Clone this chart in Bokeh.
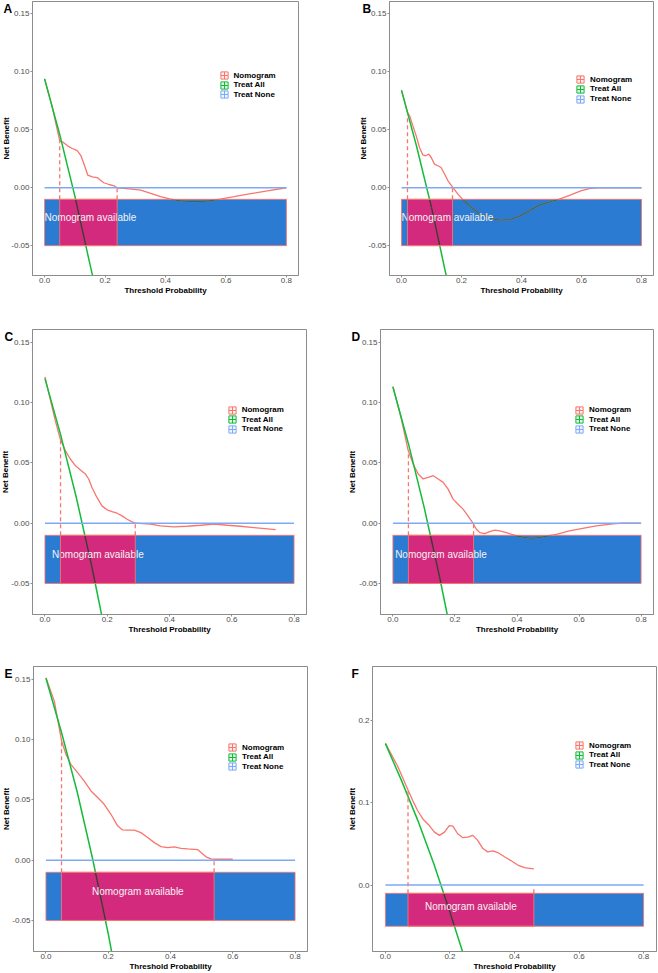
import math
from bokeh.plotting import figure
from bokeh.layouts import row, column
from bokeh.models import (Range1d, FixedTicker, NumeralTickFormatter, Legend, LegendItem,
                          CustomJSTickFormatter)
from bokeh.embed import file_html
from bokeh.resources import INLINE
from bokeh.core.properties import value

# ---------------- data ----------------
SERIES = ["Nomogram", "Treat All", "Treat None"]
X_TICKS = [0.0, 0.2, 0.4, 0.6, 0.8]
Y_TICKS_SMALL = [-0.05, 0.0, 0.05, 0.10, 0.15]
Y_LABELS_SMALL = ["-0.05", "0.00", "0.05", "0.10", "0.15"]
Y_TICKS_F = [0.0, 0.1, 0.2]
Y_LABELS_F = ["0.0", "0.1", "0.2"]
NONE_X = [0.0, 0.8]
NONE_Y = [0.0, 0.0]
BAND_X = [0.0, 0.8]          # "Nomogram available" background bar
BAND_Y = [-0.05, -0.01]

A_thr = [0.0, 0.025, 0.05, 0.06, 0.075, 0.09, 0.108, 0.12, 0.13, 0.143, 0.158, 0.174, 0.185, 0.196,
         0.213, 0.23, 0.24, 0.28, 0.318, 0.351, 0.384, 0.417, 0.45, 0.494, 0.538, 0.572, 0.627,
         0.682, 0.737, 0.8]
A_nb = [0.094, 0.070, 0.0406, 0.0395, 0.0364, 0.0341, 0.0321, 0.0278, 0.0207, 0.0108, 0.0094,
        0.0088, 0.0065, 0.0043, 0.0028, 0.0017, 0.0, -0.001, -0.002, -0.0048, -0.0077, -0.0099,
        -0.0114, -0.0119, -0.0116, -0.0102, -0.0077, -0.0051, -0.0028, 0.0]
A_all_x = [0.0, 0.05, 0.10, 0.15, 0.165]
A_all_y = [0.094, 0.046, -0.007, -0.066, -0.083]
A_avail = [0.05, 0.24]
A_dash_top = [0.041, 0.0]

B_thr = [0.0, 0.01, 0.02, 0.027, 0.038, 0.049, 0.06, 0.071, 0.08, 0.091, 0.099, 0.11, 0.121, 0.132,
         0.1435, 0.155, 0.171, 0.188, 0.205, 0.227, 0.26, 0.294, 0.327, 0.36, 0.394, 0.427, 0.461,
         0.494, 0.524, 0.56, 0.60, 0.63, 0.66, 0.8]
B_nb = [0.084, 0.075, 0.065, 0.0621, 0.0534, 0.0448, 0.0348, 0.0284, 0.0276, 0.029, 0.0261, 0.0204,
        0.019, 0.0175, 0.0118, 0.006, 0.0003, -0.0055, -0.0103, -0.0155, -0.0225, -0.0265, -0.028,
        -0.0275, -0.0245, -0.0198, -0.0148, -0.0122, -0.0100, -0.0065, -0.0025, -0.0005, 0.0, 0.0]
B_all_x = [0.0, 0.05, 0.10, 0.15, 0.16]
B_all_y = [0.084, 0.036, -0.017, -0.077, -0.090]
B_avail = [0.02, 0.17]
B_dash_top = [0.062, 0.0]

C_thr = [0.0, 0.033, 0.049, 0.0654, 0.0815, 0.0976, 0.1137, 0.13, 0.1405, 0.151, 0.167, 0.183,
         0.1995, 0.2155, 0.2316, 0.2477, 0.264, 0.28, 0.29, 0.339, 0.371, 0.414, 0.457, 0.50,
         0.543, 0.586, 0.628, 0.671, 0.741]
C_nb = [0.1214, 0.0853, 0.070, 0.0603, 0.0533, 0.0478, 0.0442, 0.0408, 0.0367, 0.0297, 0.0214,
        0.0144, 0.0111, 0.0097, 0.0083, 0.0061, 0.0033, 0.0011, 0.0, -0.0008, -0.0022, -0.003,
        -0.0025, -0.0017, -0.0008, -0.0017, -0.0025, -0.0036, -0.0053]
C_all_x = [0.0, 0.05, 0.10, 0.15, 0.185]
C_all_y = [0.12, 0.0737, 0.0222, -0.0353, -0.0798]
C_avail = [0.05, 0.29]
C_dash_top = [0.07, 0.0]

D_thr = [0.0, 0.025, 0.0493, 0.0654, 0.0815, 0.0976, 0.1137, 0.13, 0.146, 0.162, 0.178, 0.194,
         0.21, 0.226, 0.242, 0.258, 0.269, 0.28, 0.296, 0.312, 0.328, 0.344, 0.366, 0.398, 0.43,
         0.451, 0.484, 0.5265, 0.569, 0.612, 0.655, 0.709, 0.741, 0.8]
D_nb = [0.1136, 0.089, 0.0603, 0.0492, 0.0408, 0.0367, 0.038, 0.0394, 0.0367, 0.0339, 0.0283,
        0.02, 0.0158, 0.0117, 0.0061, 0.0, -0.005, -0.0078, -0.0086, -0.0069, -0.0058, -0.0064,
        -0.0078, -0.0106, -0.0119, -0.0125, -0.0114, -0.0092, -0.0064, -0.0042, -0.0022,
        -0.0006, 0.0, 0.0]
D_all_x = [0.0, 0.05, 0.10, 0.15, 0.18]
D_all_y = [0.113, 0.066, 0.014, -0.044, -0.082]
D_avail = [0.05, 0.26]
D_dash_top = [0.06, 0.0]

E_thr = [0.0, 0.0268, 0.0503, 0.0643, 0.08, 0.1017, 0.123, 0.1446, 0.166, 0.187, 0.2088, 0.23,
         0.246, 0.262, 0.284, 0.305, 0.3266, 0.348, 0.3695, 0.391, 0.412, 0.434, 0.455, 0.487,
         0.498, 0.514, 0.53, 0.546, 0.6]
E_nb = [0.1514, 0.132, 0.0989, 0.0878, 0.0796, 0.0727, 0.0657, 0.0575, 0.052, 0.0464, 0.0381,
        0.0285, 0.0251, 0.0249, 0.0249, 0.0229, 0.0188, 0.0146, 0.0113, 0.0105, 0.011, 0.0099,
        0.0094, 0.0088, 0.0064, 0.0028, 0.0011, 0.0008, 0.0008]
E_all_x = [0.0, 0.05, 0.10, 0.15, 0.20, 0.215]
E_all_y = [0.151, 0.106, 0.057, 0.001, -0.061, -0.0815]
E_avail = [0.05, 0.54]
E_dash_top = [0.099, 0.001]

F_thr = [0.0, 0.038, 0.069, 0.085, 0.100, 0.116, 0.136, 0.152, 0.1674, 0.183, 0.198, 0.209, 0.224,
         0.240, 0.255, 0.271, 0.286, 0.302, 0.317, 0.333, 0.348, 0.369, 0.3897, 0.410, 0.431,
         0.4465, 0.46]
F_nb = [0.1724, 0.1444, 0.1164, 0.1024, 0.0904, 0.0804, 0.0724, 0.0644, 0.0604, 0.0644, 0.0724,
        0.0716, 0.0624, 0.0576, 0.0584, 0.0604, 0.0544, 0.0444, 0.0404, 0.0416, 0.0396, 0.0344,
        0.0296, 0.0244, 0.0212, 0.0204, 0.0196]
F_all_x = [0.0, 0.05, 0.10, 0.15, 0.20, 0.24]
F_all_y = [0.172, 0.127, 0.079, 0.026, -0.033, -0.082]
F_avail = [0.07, 0.46]
F_dash_top = [0.117, -0.003]

# ---------------- style ----------------
FONT = "Liberation Sans"
RED = "#F8766D"
GREEN = "#12BC3A"
BLUE_LINE = "#7EA9F6"
BAR_BLUE = "#2B7BD3"
BAR_MAG = "#D42A7E"
DARK_ON_BLUE = {"red": "#2E6E60", "green": "#1F6A58"}
DARK_ON_MAG = {"red": "#8A2F58", "green": "#6A2145"}
FRAME = "#8C8C8C"
TICK_TXT = "#4D4D4D"
AVAIL_TXT = "Nomogram available"
AVAIL_PX = 10
AVAIL_EM = 9.17   # approximate width of AVAIL_TXT in em


def clip_seg(x0, y0, x1, y1, xmin, xmax, ymin, ymax):
    dx, dy = x1 - x0, y1 - y0
    t0, t1 = 0.0, 1.0
    for p, q in ((-dx, x0 - xmin), (dx, xmax - x0), (-dy, y0 - ymin), (dy, ymax - y0)):
        if p == 0:
            if q < 0:
                return None
        else:
            r = q / p
            if p < 0:
                t0 = max(t0, r)
            else:
                t1 = min(t1, r)
    if t0 >= t1:
        return None
    return [x0 + t0 * dx, x0 + t1 * dx], [y0 + t0 * dy, y0 + t1 * dy]


def clip_line(xs, ys, xmin, xmax, ymin, ymax):
    out_x, out_y = [], []
    for i in range(len(xs) - 1):
        r = clip_seg(xs[i], ys[i], xs[i + 1], ys[i + 1], xmin, xmax, ymin, ymax)
        if r:
            out_x.append(r[0])
            out_y.append(r[1])
    return out_x, out_y


def side(letter, w, h, bt, bb, ylim, yticks, ylabels, letter_x, title_x):
    """Strip left of a panel, sharing its vertical scale: letter, y title, y tick labels."""
    s = figure(width=w, height=h, output_backend="svg", toolbar_location=None,
               x_range=Range1d(0, w), y_range=Range1d(*ylim),
               x_axis_location=None, y_axis_location=None,
               min_border_left=0, min_border_right=0, min_border_top=bt, min_border_bottom=bb)
    s.grid.visible = False
    s.outline_line_color = None
    s.background_fill_color = "white"
    s.border_fill_color = "white"
    s.text(x=[letter_x], y=[ylim[1]], text=[letter], text_font=value(FONT),
           text_font_size="12px", text_font_style="bold", text_color="black",
           text_align="left", text_baseline="top")
    s.text(x=[title_x], y=[(ylim[0] + ylim[1]) / 2], text=["Net Benefit"], angle=math.pi / 2,
           text_font=value(FONT), text_font_size="8px", text_font_style="bold",
           text_color="black", text_align="center", text_baseline="middle")
    s.text(x=[w - 1] * len(yticks), y=yticks, text=ylabels, text_font=value(FONT),
           text_font_size="8px", text_color=TICK_TXT, text_align="right",
           text_baseline="middle")
    return s


def panel(thr, nb, all_x, all_y, avail, dash_top, yticks, ylim,
          w, h, borders, legend_pos):
    bl, br, bt, bb = borders
    x_lo, x_hi = -0.04, 0.84
    p = figure(width=w, height=h, output_backend="svg", toolbar_location=None,
               x_range=Range1d(x_lo, x_hi), y_range=Range1d(*ylim),
               min_border_left=bl, min_border_right=br, min_border_top=bt,
               min_border_bottom=bb)
    p.xgrid.visible = False
    p.ygrid.visible = False
    p.outline_line_color = FRAME
    p.outline_line_width = 1
    p.background_fill_color = "white"
    p.border_fill_color = "white"

    p.xaxis.ticker = FixedTicker(ticks=X_TICKS)
    p.xaxis.formatter = NumeralTickFormatter(format="0.0")
    p.yaxis.ticker = FixedTicker(ticks=yticks)
    p.yaxis.formatter = CustomJSTickFormatter(code="return '';")   # labels drawn in strip
    p.xaxis.axis_label = "Threshold Probability"
    for ax in (p.xaxis, p.yaxis):
        ax.axis_label_text_font = FONT
        ax.axis_label_text_font_style = "bold"
        ax.axis_label_text_font_size = "8px"
        ax.axis_label_text_color = "black"
        ax.axis_label_standoff = 0
        ax.major_label_text_font = FONT
        ax.major_label_text_font_size = "8px"
        ax.major_label_text_color = TICK_TXT
        ax.major_label_standoff = 0
        ax.major_tick_out = 2
        ax.major_tick_in = 0
        ax.minor_tick_out = 0
        ax.minor_tick_in = 0
        ax.axis_line_color = FRAME
        ax.major_tick_line_color = FRAME

    # background bar and "available" range
    p.quad(left=[BAND_X[0]], right=[BAND_X[1]], bottom=[BAND_Y[0]], top=[BAND_Y[1]],
           fill_color=BAR_BLUE, line_color=None)
    p.quad(left=[avail[0]], right=[avail[1]], bottom=[BAND_Y[0]], top=[BAND_Y[1]],
           fill_color=BAR_MAG, line_color=None)

    # curves
    p.line(thr, nb, line_color=RED, line_width=1.3)
    p.line(all_x, all_y, line_color=GREEN, line_width=1.5)
    p.line(NONE_X, NONE_Y, line_color=BLUE_LINE, line_width=1.5)

    # portions of the curves seen through the bars (darkened)
    for key, xs, ys in (("red", thr, nb), ("green", all_x, all_y)):
        for (x0, x1), cmap in (((BAND_X[0], avail[0]), DARK_ON_BLUE),
                               ((avail[1], BAND_X[1]), DARK_ON_BLUE),
                               ((avail[0], avail[1]), DARK_ON_MAG)):
            cx, cy = clip_line(xs, ys, x0, x1, BAND_Y[0], BAND_Y[1])
            if cx:
                p.multi_line(cx, cy, line_color=cmap[key],
                             line_width=1.5 if key == "green" else 1.3)

    # dashed markers at the limits of the available range
    p.segment(x0=avail, y0=[BAND_Y[1]] * 2, x1=avail, y1=dash_top,
              line_color=RED, line_width=1.3, line_dash="4 3")

    # label, centred on the available range but kept inside the bar
    frame_w = w - bl - br
    half = AVAIL_EM * AVAIL_PX / 2 * (x_hi - x_lo) / frame_w
    cx = (avail[0] + avail[1]) / 2
    if cx - half < BAND_X[0]:
        tx, align = BAND_X[0], "left"
    else:
        tx, align = cx, "center"
    p.text(x=[tx], y=[(BAND_Y[0] + BAND_Y[1]) / 2 + 0.004],
           text=[AVAIL_TXT], text_color="#F4F4F4",
           text_font=value(FONT), text_font_size="%dpx" % AVAIL_PX,
           text_align=align, text_baseline="middle")

    # bar outlines
    p.quad(left=[BAND_X[0], avail[0]], right=[BAND_X[1], avail[1]],
           bottom=[BAND_Y[0]] * 2, top=[BAND_Y[1]] * 2,
           fill_color=None, line_color=RED, line_alpha=0.85, line_width=1)

    # legend: one single-item legend per row so keys can be large but rows tight
    lx, lc = legend_pos
    series_xy = ((thr, nb), (all_x, all_y), (NONE_X, NONE_Y))
    for i, (name, col) in enumerate(zip(SERIES, (RED, GREEN, BLUE_LINE))):
        sx, sy = series_xy[i]
        r = p.scatter(x=[sx[0]], y=[sy[0]], marker="square_cross", size=7, line_color=col,
                      fill_color=col, fill_alpha=0.12, line_width=1, visible=False)
        leg = Legend(items=[LegendItem(label=name, renderers=[r])],
                     location=(lx, lc - 9.6 * i - 9), orientation="vertical",
                     glyph_width=18, glyph_height=18, spacing=0, padding=0, margin=0,
                     label_standoff=1, label_height=8, label_text_font=FONT,
                     label_text_font_size="8px", label_text_font_style="bold",
                     label_text_color="black", border_line_color=None,
                     background_fill_alpha=0, click_policy="none")
        p.add_layout(leg)
    return p


YL = (-0.07575, 0.16075)
YLF = (-0.0807, 0.2657)
H1, H2, H3 = 310, 326, 337


def pair(letter, data, yticks, ylabels, ylim, strip_w, h, br, bt, bb,
         letter_x, title_x, legend_pos):
    thr, nb, ax_, ay_, avail, dtop = data
    s = side(letter, strip_w, h, bt, bb, ylim, yticks, ylabels, letter_x, title_x)
    p = panel(thr, nb, ax_, ay_, avail, dtop, yticks, ylim, 329 - strip_w, h,
              (2, br, bt, bb), legend_pos)
    return s, p


sA, pA = pair("A", (A_thr, A_nb, A_all_x, A_all_y, A_avail, A_dash_top),
              Y_TICKS_SMALL, Y_LABELS_SMALL, YL, 30, H1, 31, 1, 32, 3, 5.7, (182.5, 200))
sB, pB = pair("B", (B_thr, B_nb, B_all_x, B_all_y, B_avail, B_dash_top),
              Y_TICKS_SMALL, Y_LABELS_SMALL, YL, 58, H1, 5, 1, 35, 33, 34, (182, 195.7))
sC, pC = pair("C", (C_thr, C_nb, C_all_x, C_all_y, C_avail, C_dash_top),
              Y_TICKS_SMALL, Y_LABELS_SMALL, YL, 30, H2, 23, 19, 22, 4, 5, (190.7, 204.3))
sD, pD = pair("D", (D_thr, D_nb, D_all_x, D_all_y, D_avail, D_dash_top),
              Y_TICKS_SMALL, Y_LABELS_SMALL, YL, 49, H2, 5, 19, 22, 22, 22.5, (190, 204.3))
sE, pE = pair("E", (E_thr, E_nb, E_all_x, E_all_y, E_avail, E_dash_top),
              Y_TICKS_SMALL, Y_LABELS_SMALL, YL, 31, H3, 22, 30, 22, 4, 5.5, (190, 204))
sF, pF = pair("F", (F_thr, F_nb, F_all_x, F_all_y, F_avail, F_dash_top),
              Y_TICKS_F, Y_LABELS_F, YLF, 41, H3, 2, 30, 21, 22, 22.5, (198, 206))

layout = column(row(sA, pA, sB, pB), row(sC, pC, sD, pD), row(sE, pE, sF, pF))
open("out.html", "w").write(file_html(layout, INLINE))
